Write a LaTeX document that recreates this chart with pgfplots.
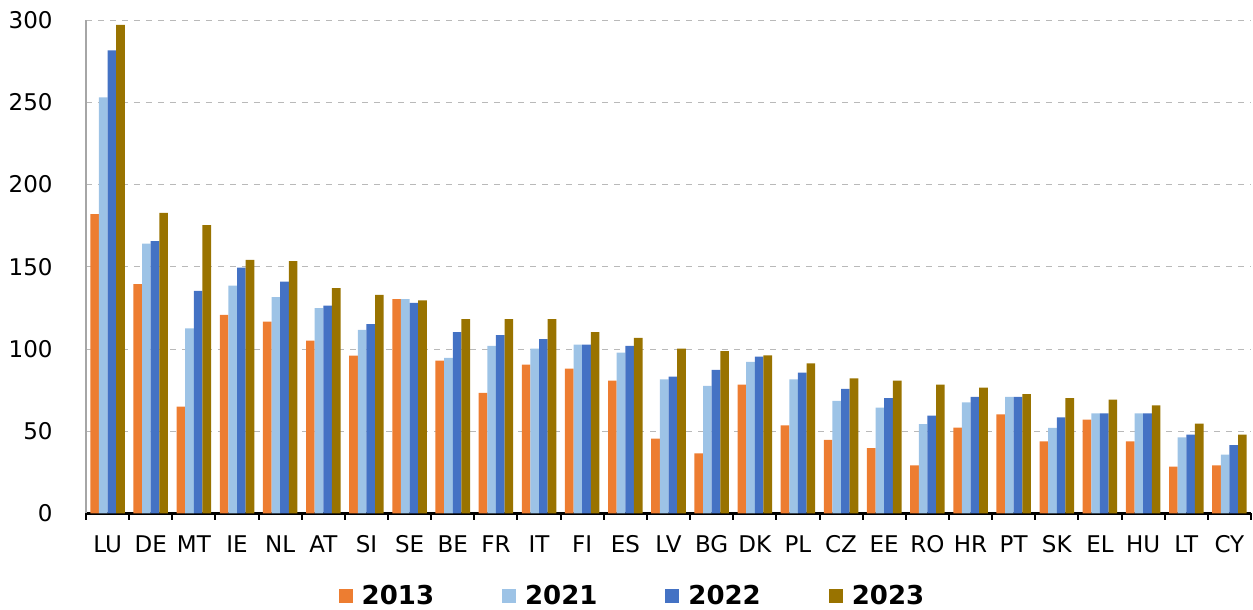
\documentclass[border=0pt]{standalone}
\usepackage{pgfplots}
\usepackage{pgfplotstable}
\pgfplotsset{compat=1.18}
\usepackage{fontspec}
\setmainfont{DejaVu Sans}
\definecolor{cA}{HTML}{ED7D31}
\definecolor{cB}{HTML}{9DC3E6}
\definecolor{cC}{HTML}{4472C4}
\definecolor{cD}{HTML}{997300}
\pgfplotstableread{
x a b c d
0 182 253 281.5 297
1 139.5 164 165.6 182.8
2 65 112.6 135.3 175.3
3 120.7 138.6 149.5 154.2
4 116.7 131.5 141 153.4
5 105.1 124.8 126.4 137
6 96 111.6 115.1 132.9
7 130.3 130.3 128 129.6
8 93 94.6 110.2 118.1
9 73.3 101.9 108.4 118.1
10 90.5 100.3 106 118.1
11 88.1 102.7 102.7 110.2
12 80.8 97.8 101.9 106.8
13 45.5 81.6 83.2 100.2
14 36.6 77.6 87.3 98.7
15 78.4 92.2 95.4 96.2
16 53.6 81.6 85.6 91.3
17 44.7 68.4 75.7 82.2
18 39.8 64.4 70.1 80.8
19 29.3 54.4 59.5 78.4
20 52.2 67.6 70.9 76.5
21 60.3 70.9 70.9 72.5
22 43.9 52 58.5 70.1
23 57.1 60.9 60.9 69.2
24 43.9 60.9 60.9 65.8
25 28.5 46.3 47.9 54.6
26 29.3 35.8 41.5 47.9
}\datatable
\begin{document}
\begin{tikzpicture}
\begin{axis}[
  at={(0,0)}, anchor=south west,
  scale only axis, width=582.5pt, height=246.75pt,
  xmin=-0.5, xmax=26.5, ymin=0, ymax=300,
  axis x line*=bottom, axis y line*=left,
  x axis line style={black, line width=1.1pt, -},
  y axis line style={gray!70, line width=0.8pt, -},
  xtick={-0.5,0.5,...,26.5},
  x tick label as interval,
  xticklabels={LU,DE,MT,IE,NL,AT,SI,SE,BE,FR,IT,FI,ES,LV,BG,DK,PL,CZ,EE,RO,HR,PT,SK,EL,HU,LT,CY},
  ytick={0,50,...,300},
  tick align=outside,
  major tick length=3pt,
  xtick style={black, line width=1pt},
  ytick style={draw=none},
  ymajorgrids,
  grid style={dashed, gray!55, line width=0.4pt},
  /pgf/number format/assume math mode=true,
  ticklabel style={font=\fontsize{11.5}{13}\selectfont, inner sep=0pt},
  yticklabel style={anchor=east},
  yticklabel shift=13.5pt,
  xticklabel style={anchor=north, text height=8.4pt, text depth=0pt},
  xticklabel shift=7.75pt,
  ybar, bar width=0.2,
  legend columns=4,
  legend style={draw=none, at={(0.4682,-0.167)}, anchor=center, inner sep=0pt,
    nodes={inner sep=0pt},
    font=\fontsize{13}{15}\selectfont\bfseries,
    /tikz/every odd column/.append style={column sep=4.5pt},
    /tikz/every even column/.append style={column sep=34pt}},
  legend image code/.code={\fill[#1] (0pt,-3.5pt) rectangle (7pt,3.5pt);},
]
\addplot[fill=cA, draw=none, bar shift=-0.3] table[x=x,y=a]{\datatable};
\addplot[fill=cB, draw=none, bar shift=-0.1] table[x=x,y=b]{\datatable};
\addplot[fill=cC, draw=none, bar shift=0.1] table[x=x,y=c]{\datatable};
\addplot[fill=cD, draw=none, bar shift=0.3] table[x=x,y=d]{\datatable};
\legend{2013,2021,2022,2023}
\end{axis}
\pgfresetboundingbox
\useasboundingbox (-43pt,-48.25pt) rectangle (583.5pt,256.75pt);
\end{tikzpicture}
\end{document}
